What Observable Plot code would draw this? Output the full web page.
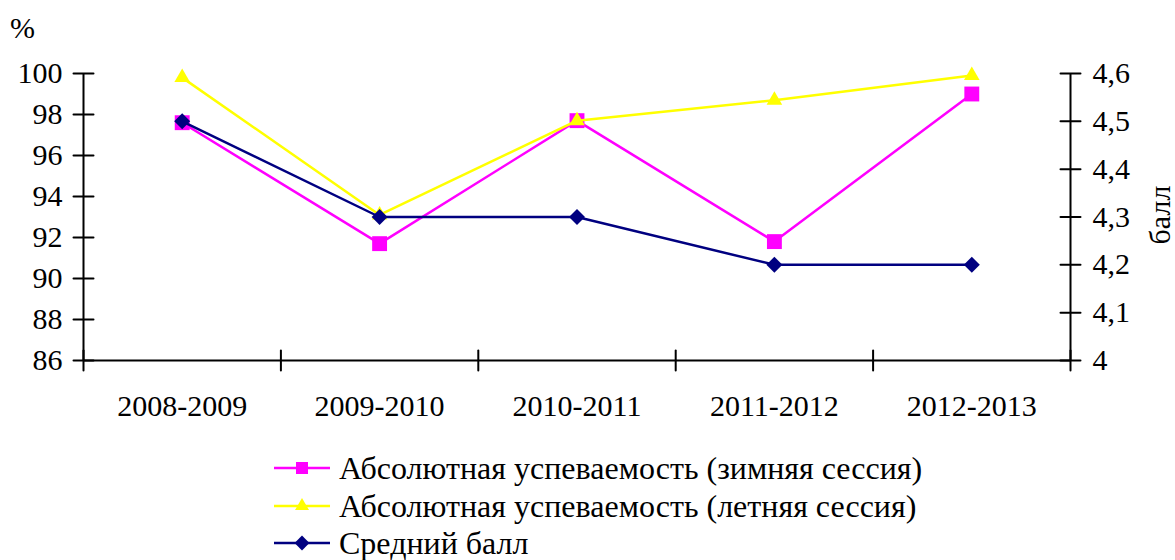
<!DOCTYPE html>
<html>
<head>
<meta charset="utf-8">
<script src="https://cdn.jsdelivr.net/npm/d3@7"></script>
<script src="https://cdn.jsdelivr.net/npm/@observablehq/plot@0.6"></script>
<style>
  html, body { margin: 0; padding: 0; background: #fff; }
  body { width: 1175px; height: 560px; position: relative; overflow: hidden; font-family: "Liberation Serif", "Times New Roman", serif; color: #000; }
  #chart { position: absolute; left: 0; top: 0; }
  .lbl { position: absolute; font-size: 30px; line-height: 30px; white-space: nowrap; }
  #legend { position: absolute; left: 0; top: 0; }
  .row { position: absolute; left: 274px; height: 32px; display: flex; align-items: center; }
  .row svg { display: block; margin-right: 9px; }
  .row span { font-size: 32px; line-height: 32px; white-space: nowrap; }
</style>
</head>
<body>
<div id="chart"></div>
<div class="lbl" style="left:10px; top:13px;">%</div>
<div class="lbl" style="left:1160px; top:215px; transform: translate(-50%,-50%) rotate(-90deg); transform-origin: center;"><span style="display:inline-block">балл</span></div>
<div id="legend"></div>
<script>
const years = ["2008-2009", "2009-2010", "2010-2011", "2011-2012", "2012-2013"];
const winter = [97.6, 91.7, 97.7, 91.8, 99.0];   // %
const summer = [99.8, 93.1, 97.7, 98.7, 99.9];   // %
const avgBall = [4.5, 4.3, 4.3, 4.2, 4.2];       // балл
const pctTicks = [86, 88, 90, 92, 94, 96, 98, 100];
const ballTicks = [4, 4.1, 4.2, 4.3, 4.4, 4.5, 4.6];
const seriesNames = ["Абсолютная успеваемость (зимняя сессия)", "Абсолютная успеваемость (летняя сессия)", "Средний балл"];
const colors = ["#FF00FF", "#FFFF00", "#000080"];

// map right-axis (балл) values onto the left (%) scale
const pMin = 86, pMax = 100, bMin = 4, bMax = 4.6;
const b2p = b => pMin + (b - bMin) / (bMax - bMin) * (pMax - pMin);
const p2b = p => bMin + (p - pMin) / (pMax - pMin) * (bMax - bMin);

const rows = s => years.map((y, i) => ({i: i + 0.5, v: s[i]}));
const dW = rows(winter), dS = rows(summer), dB = avgBall.map((b, i) => ({i: i + 0.5, v: b2p(b)}));

const tickShape = {draw(ctx, l) { ctx.moveTo(0, 0); ctx.lineTo(0, -l); }};
const bounds = d3.range(years.length + 1);

const chart = Plot.plot({
  width: 1175,
  height: 440,
  marginLeft: 83,
  marginRight: 105,
  marginTop: 73,
  marginBottom: 80,
  style: {fontFamily: "Liberation Serif, Times New Roman, serif", fontSize: "30px", color: "#000", background: "#fff"},
  x: {type: "linear", domain: [0, years.length], axis: null},
  y: {domain: [pMin, pMax], axis: null},
  marks: [
    // axis lines
    Plot.ruleX([0, years.length], {stroke: "#000", strokeWidth: 2}),
    Plot.ruleY([pMin], {stroke: "#000", strokeWidth: 2}),
    // cross ticks
    Plot.vector(pctTicks, {x: () => 0, y: d => d, length: 20, rotate: 90, anchor: "middle", shape: tickShape, stroke: "#000", strokeWidth: 2}),
    Plot.vector(ballTicks, {x: () => years.length, y: d => b2p(d), length: 20, rotate: 90, anchor: "middle", shape: tickShape, stroke: "#000", strokeWidth: 2}),
    Plot.vector(bounds, {x: d => d, y: () => pMin, length: 20, rotate: 0, anchor: "middle", shape: tickShape, stroke: "#000", strokeWidth: 2}),
    // tick labels
    Plot.axisY(pctTicks, {anchor: "left", label: null, tickSize: 0, tickPadding: 21, tickFormat: d => String(d)}),
    Plot.axisY(ballTicks.map(b2p), {anchor: "right", label: null, tickSize: 0, tickPadding: 22, tickFormat: d => String(Math.round(p2b(d) * 10) / 10).replace(".", ",")}),
    Plot.axisX(years.map((y, i) => i + 0.5), {anchor: "bottom", label: null, tickSize: 0, tickPadding: 34, tickFormat: d => years[Math.floor(d)]}),
    // series
    Plot.line(dW, {x: "i", y: "v", stroke: colors[0], strokeWidth: 2.5}),
    Plot.dot(dW, {x: "i", y: "v", symbol: "square", r: 8.4, fill: colors[0], stroke: "none"}),
    Plot.line(dS, {x: "i", y: "v", stroke: colors[1], strokeWidth: 2.5}),
    Plot.dot(dS, {x: "i", y: "v", symbol: "triangle", r: 5.8, fill: colors[1], stroke: "none"}),
    Plot.line(dB, {x: "i", y: "v", stroke: colors[2], strokeWidth: 2.5}),
    Plot.dot(dB, {x: "i", y: "v", symbol: "diamond2", r: 7.2, fill: colors[2], stroke: "none"})
  ]
});
document.getElementById("chart").appendChild(chart);

// legend
const legend = document.getElementById("legend");
const symbols = [d3.symbolSquare, d3.symbolTriangle, d3.symbolDiamond2];
const sizes = [144, 85, 140];
const rowY = [468, 506, 543];
seriesNames.forEach((name, k) => {
  const row = document.createElement("div");
  row.className = "row";
  row.style.top = (rowY[k] - 16) + "px";
  const s = d3.create("svg").attr("width", 56).attr("height", 32);
  s.append("line").attr("x1", 0).attr("x2", 56).attr("y1", 16).attr("y2", 16).attr("stroke", colors[k]).attr("stroke-width", 2.5);
  s.append("path").attr("transform", "translate(28,16)").attr("d", d3.symbol(symbols[k], sizes[k])()).attr("fill", colors[k]);
  row.appendChild(s.node());
  const t = document.createElement("span");
  t.textContent = name;
  row.appendChild(t);
  legend.appendChild(row);
});
</script>
</body>
</html>
